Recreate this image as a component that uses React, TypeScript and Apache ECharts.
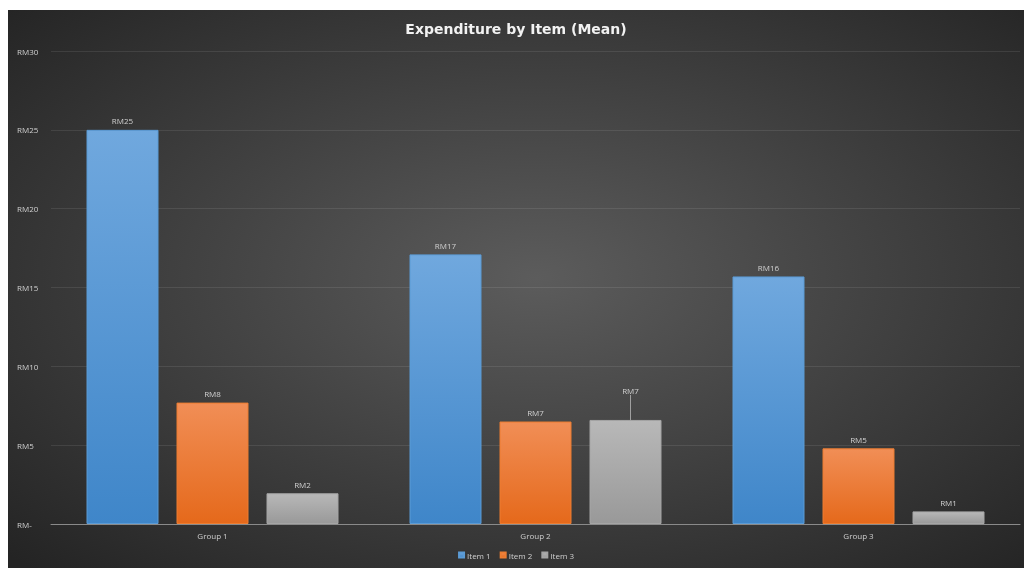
import React, { useEffect, useRef } from "react";
import * as echarts from "echarts";

const categories = ["Group 1", "Group 2", "Group 3"];
const seriesNames = ["Item 1", "Item 2", "Item 3"];
const item1 = [25.0, 17.1, 15.7];
const item2 = [7.7, 6.5, 4.8];
const item3 = [1.95, 6.6, 0.8];
const yTicks = [0, 5, 10, 15, 20, 25, 30];

const FONT = "'Open Sans', 'Noto Sans', sans-serif";

function grad(top: string, bottom: string) {
  return new echarts.graphic.LinearGradient(0, 0, 0, 1, [
    { offset: 0, color: top },
    { offset: 1, color: bottom },
  ]);
}

const fmt = (v: number) => (v === 0 ? "RM-" : "RM" + Math.round(v));

export default function App() {
  const ref = useRef<HTMLDivElement>(null);
  useEffect(() => {
    if (!ref.current) return;
    const chart = echarts.init(ref.current, undefined, { renderer: "svg" });
    const labelStyle = {
      show: true,
      position: "top" as const,
      distance: 5,
      color: "#d0d0d0",
      fontSize: 8,
      fontFamily: FONT,
      formatter: (p: any) => fmt(p.value),
    };
    const colors = [
      ["#70a8de", "#3f86c9", "#5b9bd5"],
      ["#f18e56", "#e5691b", "#ed7d31"],
      ["#b8b8b8", "#999999", "#a5a5a5"],
    ];
    const datas = [item1, item2, item3];
    chart.setOption({
      animation: false,
      graphic: [
        {
          type: "rect",
          z: -10,
          silent: true,
          shape: { x: 0, y: 0, width: 1016, height: 558 },
          style: {
            fill: new echarts.graphic.RadialGradient(0.52, 0.48, 0.72, [
              { offset: 0, color: "#5c5c5c" },
              { offset: 1, color: "#242424" },
            ]),
          },
        },
      ],
      title: {
        text: "Expenditure by Item (Mean)",
        left: "center",
        top: 7,
        textStyle: {
          color: "#f2f2f2",
          fontSize: 14,
          fontWeight: "bold",
          fontFamily: "'DejaVu Sans', sans-serif",
        },
      },
      legend: {
        data: seriesNames,
        bottom: 4,
        left: "center",
        itemWidth: 5,
        itemHeight: 5,
        itemGap: 9,
        icon: "rect",
        textStyle: { color: "#d0d0d0", fontSize: 8, fontFamily: FONT, padding: [0, 0, 0, -2] },
      },
      grid: { left: 43, right: 4, top: 41, bottom: 44, containLabel: false },
      xAxis: {
        type: "category",
        data: categories,
        axisTick: { show: false },
        axisLine: { lineStyle: { color: "#8a8a8a", width: 1 } },
        axisLabel: { color: "#d0d0d0", fontSize: 8, fontFamily: FONT, margin: 7 },
      },
      yAxis: {
        type: "value",
        min: yTicks[0],
        max: yTicks[yTicks.length - 1],
        interval: 5,
        axisLine: { show: false },
        axisTick: { show: false },
        splitLine: { lineStyle: { color: "rgba(255,255,255,0.09)", width: 1 } },
        axisLabel: {
          color: "#d0d0d0",
          fontSize: 8,
          fontFamily: FONT,
          align: "left",
          margin: 34,
          formatter: (v: number) => fmt(v),
        },
      },
      series: seriesNames.map((name, i) => ({
        name,
        type: "bar",
        barWidth: 72,
        barGap: "25%",
        itemStyle: {
          color: grad(colors[i][0], colors[i][1]),
          borderColor: colors[i][2],
          borderWidth: 1,
        },
        label: labelStyle,
        data:
          i === 2
            ? datas[i].map((v, j) =>
                j === 1
                  ? {
                      value: v,
                      labelLine: { show: true, lineStyle: { color: "#a0a0a0", width: 1 } },
                    }
                  : { value: v }
              )
            : datas[i],
        labelLayout:
          i === 2
            ? (p: any) => (p.dataIndex === 1 ? { dx: 5, dy: -20 } : {})
            : undefined,
      })),
    });
    return () => chart.dispose();
  }, []);
  return (
    <div
      ref={ref}
      style={{ position: "fixed", left: 8, top: 10, width: 1016, height: 558 }}
    />
  );
}
